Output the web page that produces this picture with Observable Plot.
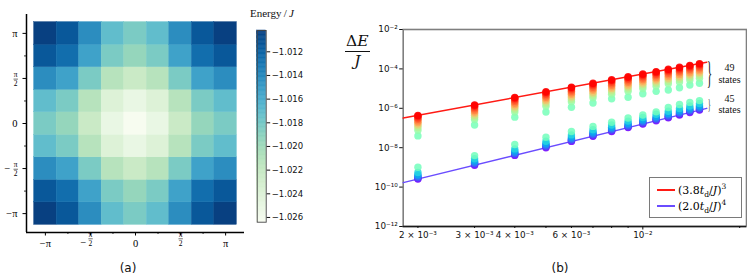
<!DOCTYPE html>
<html><head><meta charset="utf-8">
<script src="https://cdn.jsdelivr.net/npm/d3@7"></script>
<script src="https://cdn.jsdelivr.net/npm/@observablehq/plot@0.6"></script>
<style>
html,body{margin:0;padding:0;background:#fff;}
#fig{position:relative;width:747px;height:276px;overflow:hidden;background:#fff;}
#fig > *{position:absolute;}
.serif{font-family:"Liberation Serif","DejaVu Serif",serif;color:#111;}
.sans{font-family:"DejaVu Sans",sans-serif;color:#111;}
#legend{left:649px;top:177px;width:93px;height:41px;box-sizing:border-box;border:1.3px solid #7a7a7a;background:#fff;}
.lrow{position:absolute;left:0;height:14px;display:flex;align-items:center;}
.sw{display:inline-block;width:18px;height:1.6px;margin-left:7px;margin-right:3px;}
.lt{font-family:"DejaVu Serif",serif;font-size:11px;white-space:nowrap;}
.lt sub,.lt sup{font-size:7.5px;line-height:0;}
</style></head><body><div id="fig"></div>
<script>
const PI = Math.PI;
// ---------- panel (a): energy on the 9×9 k grid ----------
const kGrid = [-PI, -3*PI/4, -PI/2, -PI/4, 0, PI/4, PI/2, 3*PI/4, PI];
// rows: ky = -π ... π ; columns: kx = -π ... π
const energyRows = [
  [-1.0102,-1.0114,-1.0143,-1.0171,-1.0183,-1.0171,-1.0143,-1.0114,-1.0102],
  [-1.0114,-1.0126,-1.0154,-1.0183,-1.0195,-1.0183,-1.0154,-1.0126,-1.0114],
  [-1.0143,-1.0154,-1.0183,-1.0212,-1.0224,-1.0212,-1.0183,-1.0154,-1.0143],
  [-1.0171,-1.0183,-1.0212,-1.0240,-1.0252,-1.0240,-1.0212,-1.0183,-1.0171],
  [-1.0183,-1.0195,-1.0224,-1.0252,-1.0264,-1.0252,-1.0224,-1.0195,-1.0183],
  [-1.0171,-1.0183,-1.0212,-1.0240,-1.0252,-1.0240,-1.0212,-1.0183,-1.0171],
  [-1.0143,-1.0154,-1.0183,-1.0212,-1.0224,-1.0212,-1.0183,-1.0154,-1.0143],
  [-1.0114,-1.0126,-1.0154,-1.0183,-1.0195,-1.0183,-1.0154,-1.0126,-1.0114],
  [-1.0102,-1.0114,-1.0143,-1.0171,-1.0183,-1.0171,-1.0143,-1.0114,-1.0102]
];
const majorK = [-PI, -PI/2, 0, PI/2, PI];
const minorK = [-3*PI/4, -PI/4, PI/4, 3*PI/4];
const kSign = ["−","−","","",""];
const kNum  = ["π","π","0","π","π"];
const kDen  = ["","2","","2",""];
const cbTicks = [-1.012,-1.014,-1.016,-1.018,-1.020,-1.022,-1.024,-1.026];
const cbTickLabels = ["−1.012","−1.014","−1.016","−1.018","−1.020","−1.022","−1.024","−1.026"];

// ---------- panel (b): splittings vs t_d ----------
const tValues = [0.002,0.003,0.004,0.005,0.006,0.007,0.008,0.009,0.010,0.011,0.012,0.013,0.014,0.015];
// colour position (state rank / 93) of the drawn dots of each group
const upperRank = [0.484,0.54,0.60,0.66,0.72,0.78,0.83,0.87,0.91,0.94,0.97,1.0];
const lowerRank = [0.0,0.04,0.08,0.12,0.17,0.23,0.32,0.473];
// log10(ΔE/J) of the 49-state group, one row per t value
const upperLog10 = [
  [-7.40,-7.12,-6.99,-6.88,-6.80,-6.72,-6.64,-6.56,-6.49,-6.43,-6.39,-6.36],
  [-6.85,-6.57,-6.45,-6.35,-6.27,-6.19,-6.11,-6.03,-5.96,-5.90,-5.86,-5.83],
  [-6.45,-6.19,-6.07,-5.97,-5.89,-5.81,-5.73,-5.65,-5.58,-5.52,-5.48,-5.45],
  [-6.19,-5.90,-5.78,-5.68,-5.60,-5.52,-5.44,-5.36,-5.29,-5.23,-5.19,-5.16],
  [-5.95,-5.67,-5.55,-5.45,-5.37,-5.29,-5.21,-5.13,-5.06,-5.00,-4.96,-4.93],
  [-5.73,-5.47,-5.35,-5.25,-5.17,-5.09,-5.01,-4.93,-4.86,-4.80,-4.76,-4.73],
  [-5.52,-5.29,-5.17,-5.07,-4.99,-4.91,-4.83,-4.75,-4.68,-4.62,-4.58,-4.55],
  [-5.44,-5.14,-5.02,-4.92,-4.84,-4.76,-4.68,-4.60,-4.53,-4.47,-4.43,-4.40],
  [-5.26,-5.00,-4.88,-4.78,-4.70,-4.62,-4.54,-4.46,-4.39,-4.33,-4.29,-4.26],
  [-5.14,-4.88,-4.76,-4.66,-4.58,-4.50,-4.42,-4.34,-4.27,-4.21,-4.17,-4.14],
  [-5.07,-4.76,-4.64,-4.54,-4.46,-4.38,-4.30,-4.22,-4.15,-4.09,-4.05,-4.02],
  [-4.96,-4.66,-4.54,-4.44,-4.36,-4.28,-4.20,-4.12,-4.05,-3.99,-3.95,-3.92],
  [-4.82,-4.56,-4.44,-4.34,-4.26,-4.18,-4.10,-4.02,-3.95,-3.89,-3.85,-3.82],
  [-4.73,-4.47,-4.35,-4.25,-4.17,-4.09,-4.01,-3.93,-3.86,-3.80,-3.76,-3.73]
];
// log10(ΔE/J) of the 45-state group
const lowerLog10 = [
  [-9.59,-9.56,-9.53,-9.49,-9.44,-9.37,-9.26,-8.99],
  [-8.89,-8.86,-8.83,-8.79,-8.74,-8.67,-8.56,-8.40],
  [-8.39,-8.36,-8.33,-8.29,-8.24,-8.17,-8.06,-7.84],
  [-8.00,-7.97,-7.94,-7.90,-7.85,-7.78,-7.67,-7.47],
  [-7.68,-7.65,-7.62,-7.58,-7.53,-7.46,-7.35,-7.18],
  [-7.42,-7.39,-7.36,-7.32,-7.27,-7.20,-7.09,-6.92],
  [-7.18,-7.15,-7.12,-7.08,-7.03,-6.96,-6.85,-6.71],
  [-6.98,-6.95,-6.92,-6.88,-6.83,-6.76,-6.65,-6.49],
  [-6.80,-6.77,-6.74,-6.70,-6.65,-6.58,-6.47,-6.34],
  [-6.63,-6.60,-6.57,-6.53,-6.48,-6.41,-6.30,-6.18],
  [-6.48,-6.45,-6.42,-6.38,-6.33,-6.26,-6.15,-5.96],
  [-6.34,-6.31,-6.28,-6.24,-6.19,-6.12,-6.01,-5.81],
  [-6.21,-6.18,-6.15,-6.11,-6.06,-5.99,-5.88,-5.70],
  [-6.09,-6.06,-6.03,-5.99,-5.94,-5.87,-5.76,-5.61]
];
const fitCoef = [3.8, 2.0];
const fitPow = [3, 4];
const fitT = [0.0018, 0.0158];
const fitColor = ["#ff1a14", "#6a4cff"];
const fitLabelHtml = ["(3.8<i>t</i><sub>d</sub>/<i>J</i>)<sup>3</sup>", "(2.0<i>t</i><sub>d</sub>/<i>J</i>)<sup>4</sup>"];
const groupCounts = ["49", "45"];
const yTickValues = [1e-2,1e-4,1e-6,1e-8,1e-10,1e-12];
const yTickLabels = ["10⁻²","10⁻⁴","10⁻⁶","10⁻⁸","10⁻¹⁰","10⁻¹²"];
const xLabeledTicks = [0.002,0.003,0.004,0.006];
const xLabeledText = ["2 × 10⁻³","3 × 10⁻³","4 × 10⁻³","6 × 10⁻³"];
const xMajorTicks = [0.01];
const xMajorText = ["10⁻²"];
const xMinorTicks = [0.005,0.007,0.008,0.009,0.02];

// ---------- build ----------
const fig = document.getElementById("fig");
const serif = '"Liberation Serif","DejaVu Serif",serif';
const sans = '"DejaVu Sans",sans-serif';

const cells = [];
energyRows.forEach((row, j) => row.forEach((e, i) => cells.push({kx: kGrid[i], ky: kGrid[j], e})));
const half = (kGrid[1] - kGrid[0]) / 2;
const eMin = d3.min(cells, d => d.e), eMax = d3.max(cells, d => d.e);
const axisLim = 3.8;
const kLabels = majorK.map((v, i) => ({v, sign: kSign[i], num: kNum[i], den: kDen[i]}));
const wholeL = kLabels.filter(d => !d.den);
const fracL = kLabels.filter(d => d.den);
const fracSignL = fracL.filter(d => d.sign);

const plotA = Plot.plot({
  width: 250, height: 276, marginLeft: 26, marginRight: 6, marginTop: 14, marginBottom: 44,
  x: {domain: [-axisLim, axisLim]}, y: {domain: [-axisLim, axisLim]},
  color: {type: "linear", scheme: "GnBu", domain: [eMin, eMax]},
  style: {background: "transparent", fontFamily: serif, fontSize: "10px", color: "#000"},
  marks: [
    Plot.rect(cells, {x1: d => d.kx - half, x2: d => d.kx + half, y1: d => d.ky - half, y2: d => d.ky + half, fill: "e", stroke: "e", strokeWidth: 0.4}),
    Plot.ruleY([-axisLim], {stroke: "#000", strokeWidth: 1.5}),
    Plot.ruleX([-axisLim], {stroke: "#000", strokeWidth: 1.5}),
    Plot.axisX({ticks: majorK, tickSize: 3.5, strokeWidth: 1, tickFormat: () => "", label: null}),
    Plot.axisX({ticks: minorK, tickSize: 2, strokeWidth: 0.8, tickFormat: () => "", label: null}),
    Plot.axisY({ticks: majorK, tickSize: 3.5, strokeWidth: 1, tickFormat: () => "", label: null}),
    Plot.axisY({ticks: minorK, tickSize: 2, strokeWidth: 0.8, tickFormat: () => "", label: null}),
    Plot.text(wholeL, {x: "v", text: d => d.sign + d.num, frameAnchor: "bottom", dy: 14, fontSize: 10.5}),
    Plot.text(fracL, {x: "v", text: d => d.num + "\n" + d.den, frameAnchor: "bottom", dy: 13, fontSize: 7.5, lineHeight: 1.2}),
    Plot.text(fracSignL, {x: "v", text: "sign", frameAnchor: "bottom", dy: 13, dx: -4, textAnchor: "end", fontSize: 10.5}),
    Plot.text(wholeL, {y: "v", text: d => d.sign + d.num, frameAnchor: "left", dx: -9, textAnchor: "end", fontSize: 10.5}),
    Plot.text(fracL, {y: "v", text: d => d.num + "\n" + d.den, frameAnchor: "left", dx: -9, textAnchor: "end", fontSize: 7.5, lineHeight: 1.2}),
    Plot.text(fracSignL, {y: "v", text: "sign", frameAnchor: "left", dx: -16, textAnchor: "end", fontSize: 10.5})
  ]
});
plotA.style.left = "0px"; plotA.style.top = "0px";
fig.appendChild(plotA);

const nSteps = 150;
const grad = d3.range(nSteps).map(i => ({a: eMin + (eMax - eMin) * i / nSteps, b: eMin + (eMax - eMin) * (i + 1) / nSteps}));
const plotCb = Plot.plot({
  width: 80, height: 276, marginLeft: 16.7, marginRight: 54.3, marginTop: 30, marginBottom: 54.3,
  x: {domain: [0, 1], axis: null}, y: {domain: [eMin, eMax]},
  color: {type: "linear", scheme: "GnBu", domain: [eMin, eMax]},
  style: {background: "transparent", fontFamily: sans, fontSize: "8.5px", color: "#111"},
  marks: [
    Plot.rect(grad, {x1: 0, x2: 1, y1: "a", y2: "b", fill: d => (d.a + d.b) / 2, stroke: d => (d.a + d.b) / 2, strokeWidth: 0.5}),
    Plot.frame({stroke: "#444", strokeWidth: 0.9}),
    Plot.axisY({anchor: "right", ticks: cbTicks, tickSize: 3.5, tickPadding: 2, tickFormat: d => cbTickLabels[cbTicks.indexOf(d)], label: null})
  ]
});
plotCb.style.left = "240px"; plotCb.style.top = "0px";
fig.appendChild(plotCb);

const rainbow = t => `rgb(${Math.round(255 * Math.min(1, Math.abs(2 * t - 0.5)))},${Math.round(255 * Math.sin(PI * t))},${Math.round(255 * Math.cos(PI * t / 2))})`;
const points = [];
tValues.forEach((t, c) => {
  lowerLog10[c].forEach((v, i) => points.push({t, e: 10 ** v, col: rainbow(lowerRank[i])}));
  upperLog10[c].forEach((v, i) => points.push({t, e: 10 ** v, col: rainbow(upperRank[i])}));
});
const fitPts = fitCoef.flatMap((a, k) => fitT.map(t => ({t, e: (a * t) ** fitPow[k], k})));
const lastT = 0.0161, annT = 0.0186;
const braceData = [{y: 10 ** -4.26, s: 31}, {y: 10 ** -5.77, s: 15.5}];
const annData = [{y: 10 ** -4.21, n: groupCounts[0]}, {y: 10 ** -5.78, n: groupCounts[1]}];

const plotB = Plot.plot({
  width: 407, height: 276, marginLeft: 62.7, marginRight: 1, marginTop: 29, marginBottom: 50,
  x: {type: "log", domain: [0.0018, 0.021]},
  y: {type: "log", domain: [1e-12, 1e-2]},
  color: {type: "identity"},
  style: {background: "transparent", fontFamily: sans, fontSize: "8.8px", color: "#111"},
  marks: [
    Plot.frame({stroke: "#7f7f7f", strokeWidth: 1.6}),
    Plot.ruleY([1e-12], {stroke: "#1a1a1a", strokeWidth: 1.3}),
    Plot.axisY({ticks: yTickValues, tickSize: 3.5, tickPadding: 2, tickFormat: d => yTickLabels[yTickValues.indexOf(d)], label: null}),
    Plot.axisX({ticks: xMinorTicks, tickSize: 2, tickFormat: () => "", label: null}),
    Plot.axisX({ticks: xLabeledTicks, tickSize: 2, tickPadding: 3.5, tickFormat: d => xLabeledText[xLabeledTicks.indexOf(d)], label: null}),
    Plot.axisX({ticks: xMajorTicks, tickSize: 3.5, tickPadding: 2, tickFormat: d => xMajorText[xMajorTicks.indexOf(d)], label: null}),
    Plot.line(fitPts, {x: "t", y: "e", z: "k", stroke: d => fitColor[d.k], strokeWidth: 1.4}),
    Plot.dot(points, {x: "t", y: "e", r: 3.7, fill: "col", fillOpacity: 0.85, stroke: null}),
    Plot.text(braceData, {x: () => lastT, y: "y", text: () => "}", fontSize: d => d.s, fontFamily: serif}),
    Plot.text(annData, {x: () => annT, y: "y", text: d => d.n + "\nstates", fontSize: 10, lineHeight: 1.16, fontFamily: serif})
  ]
});
plotB.style.left = "340px"; plotB.style.top = "0px";
fig.appendChild(plotB);

// fraction bars of the stacked π/2 labels
plotA.querySelectorAll("text").forEach(t => {
  if (t.querySelectorAll("tspan").length === 2) {
    const b = t.getBBox();
    const ln = document.createElementNS("http://www.w3.org/2000/svg", "line");
    const ym = b.y + b.height / 2 + 0.3;
    ln.setAttribute("x1", b.x - 0.2); ln.setAttribute("x2", b.x + b.width + 0.2);
    ln.setAttribute("y1", ym); ln.setAttribute("y2", ym);
    ln.setAttribute("stroke", "#111"); ln.setAttribute("stroke-width", 0.6);
    if (t.getAttribute("transform")) ln.setAttribute("transform", t.getAttribute("transform"));
    t.parentNode.appendChild(ln);
  }
});
// slim braces
plotB.querySelectorAll("text").forEach(t => {
  if (t.textContent === "}") t.setAttribute("transform", (t.getAttribute("transform") || "") + " scale(0.36,1)");
});

function addDiv(html, cls, css) {
  const d = document.createElement("div");
  d.className = cls; d.innerHTML = html; d.style.cssText += css; fig.appendChild(d); return d;
}
addDiv("Energy&#8201;/&#8201;<i>J</i>", "serif", "left:250px;top:7px;font-size:11px;white-space:nowrap;");
addDiv('<div style="border-bottom:1px solid #111;padding:0 1px 1px 1px;">Δ<i>E</i></div><div style="padding-top:2px;"><i>J</i></div>',
  "serif", "left:345px;top:34px;font-family:'DejaVu Serif',serif;font-size:15.5px;line-height:1;text-align:center;");
addDiv("(a)", "sans", "left:128px;top:268px;transform:translate(-50%,-50%);font-size:12px;");
addDiv("(b)", "sans", "left:560px;top:268px;transform:translate(-50%,-50%);font-size:12px;");
const leg = document.createElement("div"); leg.id = "legend"; fig.appendChild(leg);
fitLabelHtml.forEach((h, k) => {
  const r = document.createElement("div"); r.className = "lrow"; r.style.top = (5 + 16 * k) + "px";
  r.innerHTML = `<span class="sw" style="background:${fitColor[k]}"></span><span class="lt">${h}</span>`;
  leg.appendChild(r);
});
</script></body></html>
